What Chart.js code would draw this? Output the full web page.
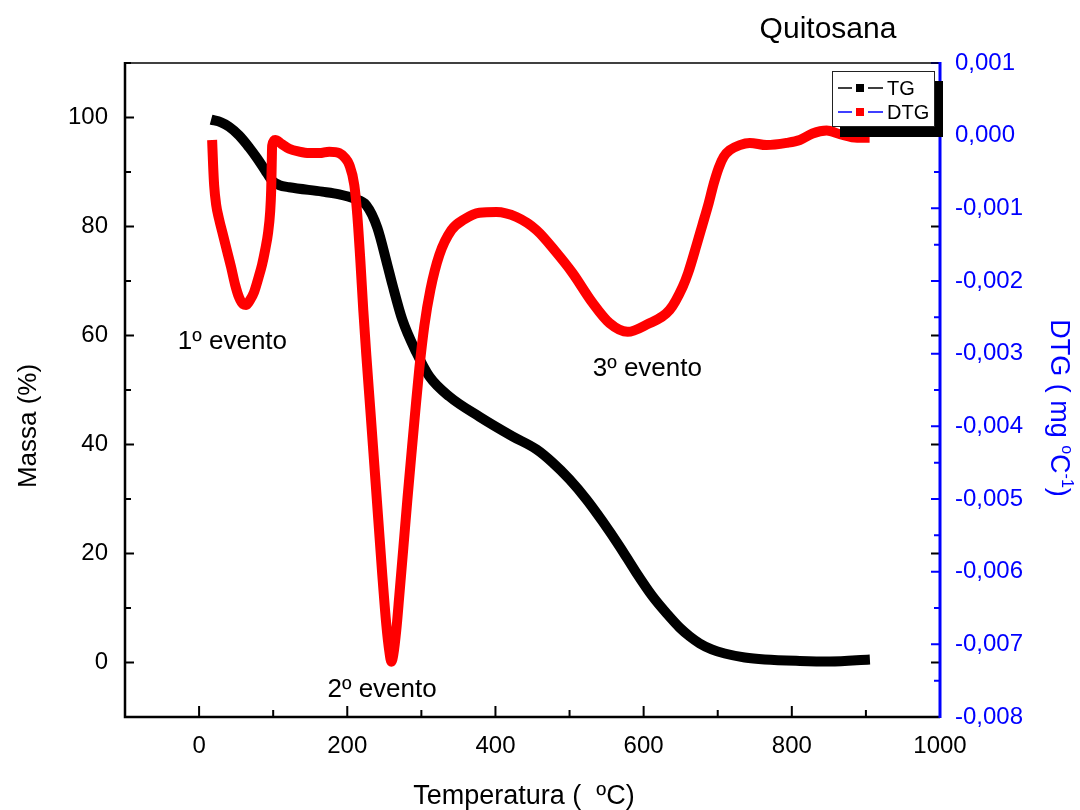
<!DOCTYPE html>
<html><head><meta charset="utf-8">
<script src="https://cdn.jsdelivr.net/npm/chart.js@4.4.1/dist/chart.umd.min.js"></script>
<style>html,body{margin:0;padding:0;background:#fff;}#wrap{width:1080px;height:810px;}</style>
</head><body><div id="wrap"><canvas id="c" width="1080" height="810"></canvas></div>
<script>
// ---- data ----
const tgTemp = [16.2, 29.7, 40.5, 54.1, 67.6, 78.4, 89.2, 98.6, 108.1, 121.6, 166.2, 189.2, 209.5, 225.7, 240.5, 254, 260.8, 274.3, 293.2, 310.8, 337.8, 378.4, 423, 455.4, 477, 500, 523, 544.6, 567.6, 589, 612.2, 632.4, 648.6, 662.2, 675.7, 691.9, 709.5, 736.5, 763.5, 810.8, 851.4, 905.4];
const tgMass = [99.6, 99.1, 98.3, 96.7, 94.5, 92.5, 90.3, 88.4, 87.6, 87.2, 86.4, 85.9, 85.1, 83.9, 79.8, 73.0, 69.4, 62.9, 56.9, 52.5, 48.8, 45.1, 41.5, 39.1, 36.7, 33.6, 29.9, 25.9, 21.3, 16.7, 12.1, 8.8, 6.4, 4.8, 3.5, 2.4, 1.65, 0.92, 0.55, 0.28, 0.18, 0.55];

const dtgTemp = [17.6, 18.9, 20.3, 23.0, 27.0, 32.4, 37.8, 43.2, 48.6, 54.1, 59.5, 63.5, 68.9, 74.3, 79.7, 85.1, 89.2, 93.2, 95.9, 97.3, 98.0, 98.6, 102.7, 110.8, 121.6, 135.1, 148.6, 162.2, 175.7, 189.2, 197.3, 202.7, 209.5, 213.5, 217.6, 221.6, 225.7, 231.1, 236.5, 241.9, 247.3, 252.7, 256.8, 259.5, 262.2, 266.2, 270.3, 275.7, 281.1, 286.5, 291.9, 297.3, 304.1, 312.2, 324.3, 340.5, 358.1, 378.4, 401.4, 428.4, 455.4, 482.4, 504, 531, 554, 578.4, 604, 635, 652.7, 660, 671.6, 679, 687.8, 694.6, 701.4, 708.1, 716.2, 729.7, 743.2, 766, 793, 810.8, 828, 847, 865, 888, 905];
const dtgValue = [-0.00006, -0.00040, -0.00068, -0.00095, -0.00115, -0.00137, -0.00159, -0.00181, -0.00205, -0.00223, -0.00232, -0.00233, -0.00226, -0.00215, -0.00197, -0.00177, -0.00157, -0.00133, -0.00105, -0.00075, -0.00040, -0.00014, -0.00006, -0.00011, -0.00018, -0.00022, -0.00024, -0.00024, -0.00022, -0.00024, -0.00031, -0.00040, -0.00068, -0.00109, -0.00171, -0.00240, -0.00302, -0.00377, -0.00453, -0.00529, -0.00605, -0.00673, -0.00710, -0.00724, -0.00714, -0.00680, -0.00632, -0.00567, -0.00501, -0.00439, -0.00378, -0.00320, -0.00261, -0.00212, -0.00164, -0.00130, -0.00115, -0.00106, -0.00105, -0.00112, -0.00130, -0.00161, -0.00189, -0.00230, -0.00258, -0.00270, -0.00260, -0.00240, -0.00208, -0.00189, -0.00150, -0.00124, -0.00093, -0.00066, -0.00044, -0.00029, -0.00020, -0.00013, -0.00010, -0.00013, -0.00010, -0.00006, 0.00003, 0.00007, 0.00002, -0.00003, -0.00003];

const xTicks = [0, 200, 400, 600, 800, 1000];
const massTicks = [0, 20, 40, 60, 80, 100];
const dtgTicks = [0.001, 0, -0.001, -0.002, -0.003, -0.004, -0.005, -0.006, -0.007, -0.008];

const titleText = 'Quitosana';
const xTitle = 'Temperatura (  ºC)';
const yTitle = 'Massa (%)';
const events = ['1º evento', '2º evento', '3º evento'];
const legendLabels = ['TG', 'DTG'];

const FONT = "'Liberation Sans', Arial, sans-serif";

const decor = {
  id: 'decor',
  afterDraw(chart) {
    const ctx = chart.ctx;
    const {left, right, top, bottom} = chart.chartArea;
    const xs = chart.scales.x, ys = chart.scales.y, y2 = chart.scales.y2;
    ctx.save();
    // ticks
    ctx.lineWidth = 2;
    ctx.strokeStyle = '#000';
    ctx.beginPath();
    for (let i = 0; i < xTicks.length; i++) {
      const p = xs.getPixelForValue(xTicks[i]);
      ctx.moveTo(p, bottom); ctx.lineTo(p, bottom - 11);
      if (i < xTicks.length - 1) {
        const m = xs.getPixelForValue((xTicks[i] + xTicks[i + 1]) / 2);
        ctx.moveTo(m, bottom); ctx.lineTo(m, bottom - 7);
      }
    }
    for (let i = 0; i < massTicks.length; i++) {
      const p = ys.getPixelForValue(massTicks[i]);
      ctx.moveTo(left, p); ctx.lineTo(left + 9, p);
      ctx.moveTo(right, p); ctx.lineTo(right - 9, p);
      const m = ys.getPixelForValue(massTicks[i] + 10);
      ctx.moveTo(left, m); ctx.lineTo(left + 6, m);
      ctx.moveTo(right, m); ctx.lineTo(right - 6, m);
    }
    ctx.stroke();
    ctx.strokeStyle = '#0000ff';
    ctx.beginPath();
    for (let i = 0; i < dtgTicks.length; i++) {
      const p = y2.getPixelForValue(dtgTicks[i]);
      ctx.moveTo(right, p); ctx.lineTo(right - 9, p);
      if (i < dtgTicks.length - 1) {
        const m = y2.getPixelForValue((dtgTicks[i] + dtgTicks[i + 1]) / 2);
        ctx.moveTo(right, m); ctx.lineTo(right - 6, m);
      }
    }
    ctx.stroke();
    // frame
    ctx.strokeStyle = '#000';
    ctx.lineWidth = 1.5;
    ctx.beginPath(); ctx.moveTo(left, top); ctx.lineTo(right, top); ctx.stroke();
    ctx.lineWidth = 2.5;
    ctx.beginPath(); ctx.moveTo(left, top - 1); ctx.lineTo(left, bottom); ctx.lineTo(right, bottom); ctx.stroke();
    ctx.strokeStyle = '#0000ff';
    ctx.lineWidth = 3;
    ctx.beginPath(); ctx.moveTo(right, top - 1); ctx.lineTo(right, bottom + 1); ctx.stroke();

    // legend with shadow
    ctx.fillStyle = '#000';
    ctx.fillRect(840, 81, 103, 56);
    ctx.fillStyle = '#fff';
    ctx.fillRect(832, 71, 103, 56);
    ctx.strokeStyle = '#222';
    ctx.lineWidth = 1;
    ctx.strokeRect(832.5, 71.5, 102, 55);
    const rows = [{y: 88, line: '#000', mark: '#000'}, {y: 112, line: '#0000ff', mark: '#ff0000'}];
    ctx.font = '20px ' + FONT;
    ctx.textBaseline = 'middle';
    ctx.textAlign = 'left';
    rows.forEach((r, i) => {
      ctx.strokeStyle = r.line; ctx.lineWidth = 1.5;
      ctx.beginPath(); ctx.moveTo(838, r.y); ctx.lineTo(852, r.y); ctx.moveTo(868, r.y); ctx.lineTo(883, r.y); ctx.stroke();
      ctx.fillStyle = r.mark; ctx.fillRect(856, r.y - 4, 8, 8);
      ctx.fillStyle = '#000';
      ctx.fillText(legendLabels[i], 887, r.y + 1);
    });

    // texts
    ctx.fillStyle = '#000';
    ctx.textAlign = 'center';
    ctx.textBaseline = 'middle';
    ctx.font = '30px ' + FONT;
    ctx.fillText(titleText, 828, 30);
    ctx.font = '26px ' + FONT;
    ctx.fillText(events[0], xs.getPixelForValue(45), ys.getPixelForValue(58.9));
    ctx.fillText(events[1], xs.getPixelForValue(247), ys.getPixelForValue(-5.1));
    ctx.fillText(events[2], xs.getPixelForValue(605), ys.getPixelForValue(53.9));
    ctx.font = '27px ' + FONT;
    ctx.fillText(xTitle, 524, 797);
    ctx.save();
    ctx.translate(29, 426);
    ctx.rotate(-Math.PI / 2);
    ctx.font = '26px ' + FONT;
    ctx.fillText(yTitle, 0, 0);
    ctx.restore();
    // right title with superscripts
    ctx.save();
    ctx.translate(1051, 408);
    ctx.rotate(Math.PI / 2);
    ctx.fillStyle = '#0000ff';
    ctx.textAlign = 'left';
    ctx.textBaseline = 'alphabetic';
    const parts = [['DTG ( mg ', 0], ['o', 1], ['C', 0], ['-1', 1], [')', 0]];
    const nf = '27px ' + FONT, sf = '16px ' + FONT;
    let w = 0;
    parts.forEach(p => { ctx.font = p[1] ? sf : nf; w += ctx.measureText(p[0]).width; });
    let x = -w / 2;
    parts.forEach(p => {
      ctx.font = p[1] ? sf : nf;
      ctx.fillText(p[0], x, p[1] ? -11 : 0);
      x += ctx.measureText(p[0]).width;
    });
    ctx.restore();
    ctx.restore();
  }
};

const fmt = v => (Math.abs(v) < 1e-12 ? 0 : v).toFixed(3).replace('.', ',');

new Chart(document.getElementById('c'), {
  type: 'scatter',
  data: {
    datasets: [
      {label: 'DTG', data: dtgTemp.map((t, i) => ({x: t, y: dtgValue[i]})), yAxisID: 'y2', showLine: true,
       borderColor: '#ff0000', backgroundColor: '#ff0000', borderWidth: 10, pointRadius: 0, cubicInterpolationMode: 'monotone', order: 0},
      {label: 'TG', data: tgTemp.map((t, i) => ({x: t, y: tgMass[i]})), yAxisID: 'y', showLine: true,
       borderColor: '#000', backgroundColor: '#000', borderWidth: 10, pointRadius: 0, cubicInterpolationMode: 'monotone', order: 1}
    ]
  },
  options: {
    responsive: false, animation: false, devicePixelRatio: 1,
    layout: {padding: {top: 63, left: 0, right: 0, bottom: 0}},
    plugins: {legend: {display: false}, tooltip: {enabled: false}, title: {display: false}},
    scales: {
      x: {type: 'linear', position: 'bottom', min: -100, max: 1000,
          afterFit(s) { s.height = 93; },
          afterBuildTicks(s) { s.ticks = xTicks.map(v => ({value: v})); },
          grid: {display: false, drawTicks: false}, border: {display: false},
          ticks: {font: {family: FONT, size: 24}, color: '#000', padding: 15, maxRotation: 0, autoSkip: false, callback: v => String(v)}},
      y: {type: 'linear', position: 'left', min: -10, max: 110,
          afterFit(s) { s.width = 125; },
          afterBuildTicks(s) { s.ticks = massTicks.map(v => ({value: v})); },
          grid: {display: false, drawTicks: false}, border: {display: false},
          ticks: {font: {family: FONT, size: 24}, color: '#000', padding: 17, autoSkip: false, callback: v => String(v)}},
      y2: {type: 'linear', position: 'right', min: -0.008, max: 0.001,
          afterFit(s) { s.width = 140; },
          afterBuildTicks(s) { s.ticks = dtgTicks.map(v => ({value: v})); },
          grid: {display: false, drawTicks: false}, border: {display: false},
          ticks: {font: {family: FONT, size: 24}, color: '#0000ff', padding: 15, autoSkip: false, callback: v => fmt(v)}}
    }
  },
  plugins: [decor]
});
</script>
</body></html>
